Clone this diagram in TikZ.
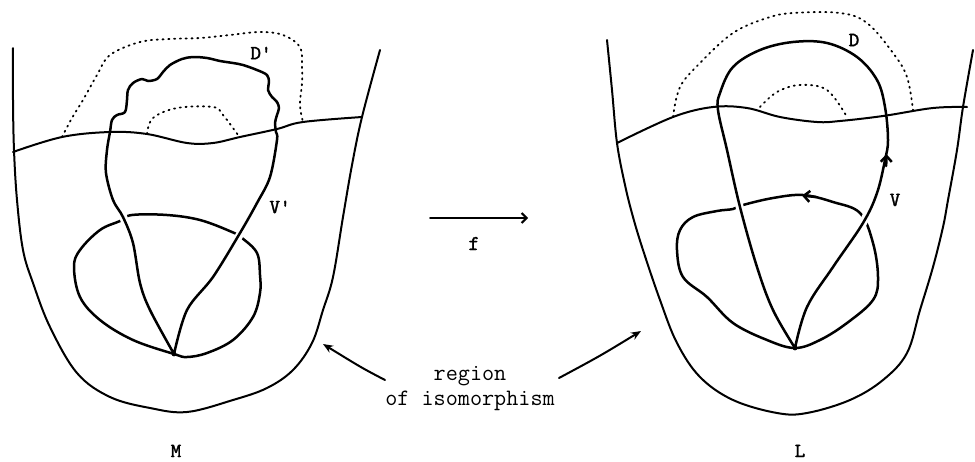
\documentclass[tikz,border=0pt]{standalone}
\usepackage{fontspec}
\newfontfamily\heavytt{lmmono10-regular.otf}[FakeBold=1.6]
\usetikzlibrary{arrows.meta}
\begin{document}
\begin{tikzpicture}[x=1pt,y=-1pt,
  edge/.style={line width=2pt, line cap=round, line join=round},
  loopline/.style={line width=2.5pt, line cap=round, line join=round},
  dots/.style={line width=1.8pt, dash pattern=on 1.2pt off 4.6pt, line cap=round},
  halo/.style={white, line width=8pt},
  tip/.style={-{Stealth[length=10pt,width=8pt]}},
  barb/.style={-{Straight Barb[length=5pt,width=10pt]}},
  orient/.style={-{Straight Barb[length=6pt,width=11pt]}},
  lbl/.style={font=\heavytt\fontsize{20}{20}\selectfont, inner sep=0pt},
  txt/.style={font=\ttfamily\fontsize{23.5}{25}\selectfont, align=center, inner sep=0pt}]
\useasboundingbox (0,0) rectangle (975,461);

% ---------------- left surface M ----------------
% outer boundary
\draw[edge] plot[smooth, tension=0.6] coordinates {(13,48) (13,100) (14,150) (17,200) (23,250)
  (33,283) (50,327) (77,373) (110,397) (150,408) (187,412) (233,400) (267,388) (293,370)
  (312,343) (323,310) (333,277) (343,217) (352,165) (362,117) (380,50)};
% cross curve
\draw[edge] plot[smooth, tension=0.6] coordinates {(13,152) (62,137) (110,132) (147,134)
  (187,143) (213,143) (240,137) (277,129) (303,122) (362,117)};
% dotted outlines of D'
\draw[dots] plot[smooth, tension=0.6] coordinates {(62,137) (72,118) (83,100) (97,75) (110,55)
  (140,42) (170,39) (200,38) (230,35) (260,32) (283,35) (300,47) (302,67) (302,83) (300,105) (303,122)};
\draw[dots] plot[smooth, tension=0.6] coordinates {(147,134) (153,118) (177,108) (213,107)
  (223,115) (238,135)};
% circle through the base point
\draw[loopline] plot[smooth cycle, tension=0.6] coordinates {(120,221) (132,215) (167,215)
  (200,220) (232,232) (242,238) (257,253) (260,275) (260,293) (253,317) (233,340) (207,353)
  (187,357) (174,354) (133,340) (100,320) (80,297) (74,267) (80,250) (100,230)};
% breaks where the loop V' passes over the circle
\draw[halo] (120.6,210.7) -- (127.4,227.3);
\draw[halo] (242.9,229) -- (235.1,243);
% loop V' with the wavy disc D'
\draw[loopline] plot[smooth, tension=0.55] coordinates {(174,354) (150,310) (140,283) (133,243)
  (123,217) (113,200) (106,173) (107,150) (110,132) (112,120) (117,115) (125,112) (127,100)
  (128,90) (133,83) (142,79) (148,81) (157,79) (163,72) (170,65) (182,59) (193,57) (207,58)
  (220,61) (233,63) (243,65) (257,70) (267,75) (269,82) (268,90) (272,97) (277,102) (279,108)
  (277,115) (275,123) (276,132) (277,140) (270,177) (257,203) (240,233) (213,277) (187,310) (174,354)};
\fill (174,354) circle (2.4pt);

\node[lbl] (dprime) at (261,53) {D'};
\node[lbl] (vprime) at (280,207) {V'};
\node[lbl, anchor=base] (mlabel) at (176,457) {M};

% ---------------- right surface L ----------------
\draw[edge] plot[smooth, tension=0.6] coordinates {(607,40) (612,90) (617,143) (625,185)
  (633,217) (643,250) (660,300) (677,343) (700,377) (733,400) (777,413) (807,413) (850,400)
  (883,380) (907,353) (920,310) (933,267) (943,227) (948,200) (957,150) (963,107) (973,50)};
\draw[edge] plot[smooth, tension=0.6] coordinates {(617,143) (673,117) (713,107) (747,108)
  (780,117) (817,122) (840,121) (883,116) (933,108) (967,107)};
\draw[dots] plot[smooth, tension=0.6] coordinates {(673,117) (680,87) (700,63) (733,33)
  (767,18) (793,13) (840,13) (867,23) (893,53) (907,77) (913,110)};
\draw[dots] plot[smooth, tension=0.6] coordinates {(760,107) (777,92) (800,85) (827,90) (847,117)};
\draw[loopline] plot[smooth cycle, tension=0.6] coordinates {(733,209) (743,205) (773,198)
  (803,195) (833,202) (860,213) (873,243) (878,277) (873,300) (847,323) (820,340) (795,348)
  (767,340) (733,323) (707,297) (683,277) (677,250) (680,230) (693,217) (717,211)};
\draw[halo] (737.6,198.8) -- (741.4,214.2);
\draw[halo] (867.1,214.2) -- (860.3,228.8);
\draw[loopline] plot[smooth, tension=0.6] coordinates {(795,348) (773,310) (757,267) (740,207)
  (727,150) (718,110) (720,93) (733,67) (760,50) (793,42) (827,43) (857,57) (877,80) (885,107)
  (888,140) (885,160) (877,193) (863,223) (833,267) (807,307) (795,348)};
\fill (795,348) circle (2.4pt);
% orientation marks
\draw[loopline, orient] (886.2,166) -- (886.4,154);
\draw[loopline, orient] (816,197) -- (802,195.6);

\node[lbl] (dlabel) at (854,40) {D};
\node[lbl] (vlabel) at (895,200) {V};
\node[lbl, anchor=base] (llabel) at (800,457) {L};

% ---------------- the map f and the region label ----------------
\coordinate (fstart) at (430,218);
\coordinate (fend) at (528,218);
\draw[edge, barb] (fstart) -- (fend);
\node[font=\heavytt\fontsize{21}{21}\selectfont, inner sep=0pt, anchor=base] (flabel) at (474,250) {f};

\node[txt] (region) at (470,389) {region\\of isomorphism};
\coordinate (lefttip) at (323,344);
\coordinate (righttip) at (641,331);
\coordinate (leftfoot) at (385,380);
\coordinate (rightfoot) at (559,378);
\draw[edge, tip] (leftfoot) .. controls (362,368) .. (lefttip);
\draw[edge, tip] (rightfoot) .. controls (600,356) .. (righttip);
\end{tikzpicture}
\end{document}
